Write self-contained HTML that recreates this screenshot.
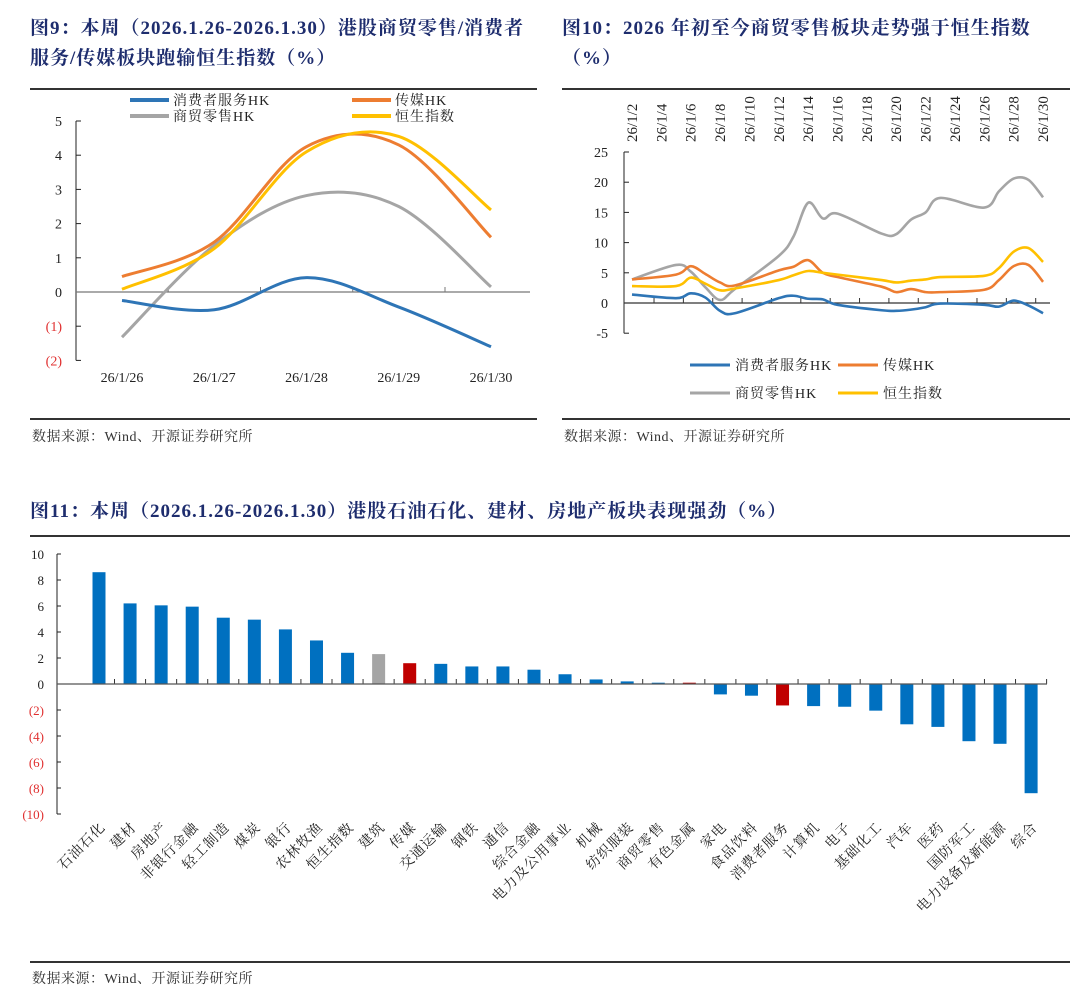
<!DOCTYPE html>
<html><head><meta charset="utf-8">
<style>
body{margin:0;background:#fff;width:1080px;height:1008px;overflow:hidden;font-family:"Liberation Serif","Noto Serif CJK SC",serif;}
.t{position:absolute;color:#1e2d6e;font-weight:bold;font-size:19px;font-family:"Liberation Serif","Noto Serif CJK SC",serif;line-height:30px;letter-spacing:1px;white-space:nowrap;}
.rule{position:absolute;height:2px;background:#333;}
.src{position:absolute;font-size:14px;color:#333;letter-spacing:0.5px;}
svg{position:absolute;left:0;top:0}
</style></head><body>
<div class="t" style="left:30px;top:14px;">图9：本周（2026.1.26-2026.1.30）港股商贸零售/消费者<br>服务/传媒板块跑输恒生指数（%）</div>
<div class="t" style="left:562px;top:14px;">图10：2026 年初至今商贸零售板块走势强于恒生指数<br>（%）</div>
<div class="rule" style="left:30px;top:88px;width:507px"></div>
<div class="rule" style="left:562px;top:88px;width:508px"></div>
<div class="rule" style="left:30px;top:418px;width:507px"></div>
<div class="rule" style="left:562px;top:418px;width:508px"></div>
<div class="src" style="left:32px;top:426px">数据来源：Wind、开源证券研究所</div>
<div class="src" style="left:564px;top:426px">数据来源：Wind、开源证券研究所</div>
<div class="t" style="left:30px;top:497px;">图11：本周（2026.1.26-2026.1.30）港股石油石化、建材、房地产板块表现强劲（%）</div>
<div class="rule" style="left:30px;top:535px;width:1040px"></div>
<div class="rule" style="left:30px;top:961px;width:1040px"></div>
<div class="src" style="left:32px;top:968px">数据来源：Wind、开源证券研究所</div>
<svg id="s" width="1080" height="1008" xmlns="http://www.w3.org/2000/svg"></svg>
<script>
// ---- Chart 9 data ----
const c9Dates=["26/1/26","26/1/27","26/1/28","26/1/29","26/1/30"];
const c9Consumer=[-0.25,-0.52,0.42,-0.44,-1.6];
const c9Media=[0.45,1.46,4.25,4.3,1.6];
const c9Retail=[-1.32,1.36,2.82,2.5,0.15];
const c9HSI=[0.08,1.27,4.1,4.55,2.4];
const c9Ticks=[5,4,3,2,1,0,-1,-2];
// ---- Chart 10 data ----
const c10Days=[2,5,6,7,8,9,12,13,14,15,16,19,20,21,22,23,26,27,28,29,30];
const c10Consumer=[1.4,0.8,1.6,0.9,-1.3,-1.7,0.8,1.2,0.7,0.6,-0.3,-1.2,-1.3,-1.1,-0.7,-0.1,-0.3,-0.6,0.4,-0.4,-1.7];
const c10Media=[3.9,4.7,6.1,4.8,3.4,2.9,5.4,6.0,7.1,5.0,4.3,2.7,1.8,2.3,1.8,1.8,2.2,3.8,6.1,6.3,3.5];
const c10Retail=[3.9,6.3,5.2,2.6,0.5,2.3,7.8,11.0,16.6,14.0,14.8,11.5,11.4,13.8,15.0,17.4,15.8,18.5,20.6,20.4,17.5];
const c10HSI=[2.8,2.8,4.2,3.2,2.1,2.4,3.8,4.6,5.3,5.0,4.7,3.8,3.4,3.7,3.9,4.3,4.5,5.8,8.5,9.1,6.8];
const c10Labels=["26/1/2","26/1/4","26/1/6","26/1/8","26/1/10","26/1/12","26/1/14","26/1/16","26/1/18","26/1/20","26/1/22","26/1/24","26/1/26","26/1/28","26/1/30"];
const c10Ticks=[25,20,15,10,5,0,-5];
// ---- Chart 11 data ----
const c11Cats=["石油石化","建材","房地产","非银行金融","轻工制造","煤炭","银行","农林牧渔","恒生指数","建筑","传媒","交通运输","钢铁","通信","综合金融","电力及公用事业","机械","纺织服装","商贸零售","有色金属","家电","食品饮料","消费者服务","计算机","电子","基础化工","汽车","医药","国防军工","电力设备及新能源","综合"];
const c11Vals=[8.6,6.2,6.05,5.95,5.1,4.95,4.2,3.35,2.4,2.3,1.6,1.55,1.35,1.35,1.1,0.75,0.35,0.2,0.1,0.1,-0.8,-0.9,-1.65,-1.7,-1.75,-2.05,-3.1,-3.3,-4.4,-4.6,-8.4];
const c11Colors=["b","b","b","b","b","b","b","b","b","g","r","b","b","b","b","b","b","b","b","r","b","b","r","b","b","b","b","b","b","b","b"];
const c11Ticks=[10,8,6,4,2,0,-2,-4,-6,-8,-10];

const NS="http://www.w3.org/2000/svg",S=document.getElementById('s');
function el(t,a,txt){const e=document.createElementNS(NS,t);for(const k in a)e.setAttribute(k,a[k]);if(txt!==undefined)e.textContent=txt;S.appendChild(e);return e;}
function fmt(v){return v<0?"("+(-v)+")":String(v);}
const BLUE="#2e75b6",ORANGE="#ed7d31",GRAY="#a5a5a5",YEL="#ffc000";
function spline(pts){let d="M"+pts[0][0]+","+pts[0][1];for(let i=0;i<pts.length-1;i++){const p0=pts[Math.max(0,i-1)],p1=pts[i],p2=pts[i+1],p3=pts[Math.min(pts.length-1,i+2)];const t=6;d+=` C${p1[0]+(p2[0]-p0[0])/t},${p1[1]+(p2[1]-p0[1])/t} ${p2[0]-(p3[0]-p1[0])/t},${p2[1]-(p3[1]-p1[1])/t} ${p2[0]},${p2[1]}`;}return d;}

// Chart 9
const x9=i=>122+i*92.25, y9=v=>292-v*34.2;
el('line',{x1:76,y1:y9(5),x2:76,y2:y9(-2),stroke:'#222','stroke-width':1});
c9Ticks.forEach(v=>{el('line',{x1:76,y1:y9(v),x2:81,y2:y9(v),stroke:'#222'});
const t=el('text',{x:62,y:y9(v)+5,'text-anchor':'end','font-size':14,fill:v<0?'#e03030':'#222'},fmt(v));});
el('line',{x1:76,y1:y9(0),x2:530,y2:y9(0),stroke:'#777','stroke-width':1.2});
c9Dates.forEach((d,i)=>{if(i>0)el('line',{x1:x9(i)-46,y1:y9(0),x2:x9(i)-46,y2:y9(0)-5,stroke:'#777'});
const t=el('text',{x:x9(i),y:382,'text-anchor':'middle','font-size':14,fill:'#222'},d);});
[[c9Retail,GRAY,'retail'],[c9Media,ORANGE,'media'],[c9HSI,YEL,'hsi'],[c9Consumer,BLUE,'consumer']].forEach(([a,c,n])=>{
const p=el('path',{d:spline(a.map((v,i)=>[x9(i),y9(v)])),fill:'none',stroke:c,'stroke-width':3});});
[[130,100,BLUE,'消费者服务HK'],[352,100,ORANGE,'传媒HK'],[130,116,GRAY,'商贸零售HK'],[352,116,YEL,'恒生指数']].forEach(([x,y,c,l])=>{
el('line',{x1:x,y1:y,x2:x+39,y2:y,stroke:c,'stroke-width':4});const t=el('text',{x:x+43,y:y+5,'font-size':14,'letter-spacing':1,fill:'#222'},l);});

// Chart 10
const x10=d=>632+(d-2)*14.68, y10=v=>303-v*6.04;
el('line',{x1:624,y1:y10(25),x2:624,y2:y10(-5),stroke:'#222'});
c10Ticks.forEach(v=>{el('line',{x1:624,y1:y10(v),x2:629,y2:y10(v),stroke:'#222'});
const t=el('text',{x:608,y:y10(v)+5,'text-anchor':'end','font-size':14,fill:'#222'},String(v));});
el('line',{x1:624,y1:y10(0),x2:1050,y2:y10(0),stroke:'#333','stroke-width':1.2});
c10Labels.forEach((l,i)=>{const d=2+2*i;if(i<14)el('line',{x1:x10(d+1.5),y1:y10(0),x2:x10(d+1.5),y2:y10(0)-5,stroke:'#333'});
const t=el('text',{x:0,y:0,'font-size':15,fill:'#222',transform:`translate(${x10(d)+5},142) rotate(-90)`},l);});
[[c10Retail,GRAY,'retail'],[c10Media,ORANGE,'media'],[c10HSI,YEL,'hsi'],[c10Consumer,BLUE,'consumer']].forEach(([a,c,n])=>{
const p=el('path',{d:spline(a.map((v,i)=>[x10(c10Days[i]),y10(v)])),fill:'none',stroke:c,'stroke-width':2.6});});
[[690,365,BLUE,'消费者服务HK'],[838,365,ORANGE,'传媒HK'],[690,393,GRAY,'商贸零售HK'],[838,393,YEL,'恒生指数']].forEach(([x,y,c,l])=>{
el('line',{x1:x,y1:y,x2:x+40,y2:y,stroke:c,'stroke-width':3});const t=el('text',{x:x+45,y:y+5,'font-size':14,'letter-spacing':1,fill:'#222'},l);});

// Chart 11
const x11=i=>99+i*31.07, y11=v=>684-v*13.0;
const cmap={b:"#0070c0",r:"#c00000",g:"#a5a5a5"};
el('line',{x1:57,y1:y11(10),x2:57,y2:y11(-10),stroke:'#222'});
c11Ticks.forEach(v=>{el('line',{x1:57,y1:y11(v),x2:61,y2:y11(v),stroke:'#222'});
const t=el('text',{x:44,y:y11(v)+5,'text-anchor':'end','font-size':13,fill:v<0?'#e03030':'#222'},fmt(v));});
c11Vals.forEach((v,i)=>{const y=Math.min(y11(v),y11(0)),h=Math.abs(y11(v)-y11(0));
const r=el('rect',{x:x11(i)-6.5,y:y,width:13,height:h,fill:cmap[c11Colors[i]]});
el('line',{x1:x11(i)+15.5,y1:y11(0),x2:x11(i)+15.5,y2:y11(0)-5,stroke:'#333'});
const t=el('text',{x:0,y:0,'text-anchor':'end','font-size':14,'letter-spacing':1,fill:'#222',transform:`translate(${x11(i)+7},${y11(-10)+14}) rotate(-45)`},c11Cats[i]);});
el('line',{x1:57,y1:y11(0),x2:1047,y2:y11(0),stroke:'#555','stroke-width':1.2});
</script>
</body></html>
